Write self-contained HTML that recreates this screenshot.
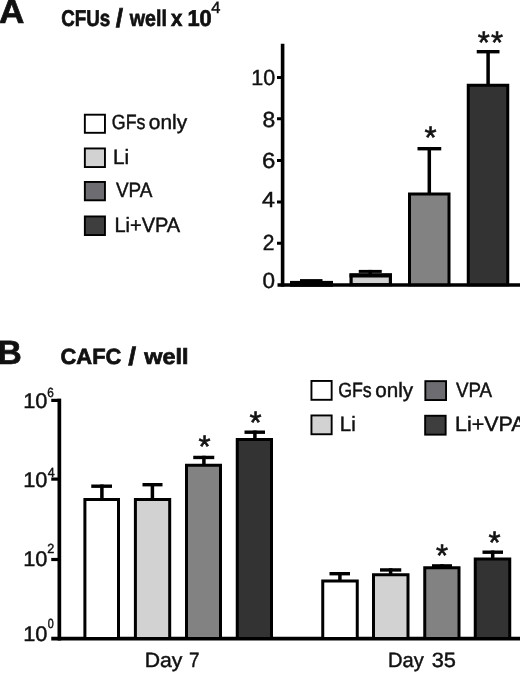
<!DOCTYPE html>
<html><head><meta charset="utf-8"><title>Figure</title>
<style>
html,body{margin:0;padding:0;background:#fff;}
body{width:520px;height:674px;overflow:hidden;}
svg{display:block;}
svg text{font-family:"Liberation Sans",sans-serif;fill:#111;text-rendering:geometricPrecision;}
</style></head><body>
<svg width="520" height="674" viewBox="0 0 520 674">
<rect x="0" y="0" width="520" height="674" fill="#fff"/>
<rect x="280.80" y="43.75" width="3.60" height="243.00" fill="#000"/>
<rect x="277.50" y="283.25" width="242.50" height="3.50" fill="#000"/>
<rect x="277.00" y="76.00" width="5.00" height="3.00" fill="#000"/>
<rect x="277.00" y="117.25" width="5.00" height="3.00" fill="#000"/>
<rect x="277.00" y="159.00" width="5.00" height="3.00" fill="#000"/>
<rect x="277.00" y="200.50" width="5.00" height="3.00" fill="#000"/>
<rect x="277.00" y="241.75" width="5.00" height="3.00" fill="#000"/>
<rect x="290.00" y="280.90" width="43.00" height="5.85" fill="#000"/>
<rect x="300.00" y="279.10" width="22.50" height="2.40" fill="#000"/>
<rect x="368.45" y="269.90" width="3.50" height="5.10" fill="#000"/><rect x="358.75" y="269.90" width="23.00" height="3.00" fill="#000"/>
<rect x="351.10" y="275.00" width="39.30" height="9.65" fill="#d2d2d2" stroke="#000" stroke-width="3.2"/>
<rect x="349.50" y="273.40" width="42.50" height="4.10" fill="#000"/>
<rect x="427.55" y="147.00" width="3.50" height="47.00" fill="#000"/><rect x="417.50" y="147.00" width="23.75" height="3.40" fill="#000"/>
<rect x="409.50" y="194.00" width="39.50" height="90.75" fill="#828282" stroke="#000" stroke-width="3.0"/>
<rect x="486.35" y="50.00" width="3.50" height="35.00" fill="#000"/><rect x="476.75" y="50.00" width="22.75" height="3.40" fill="#000"/>
<rect x="468.25" y="85.25" width="39.50" height="199.50" fill="#333333" stroke="#000" stroke-width="3.0"/>
<rect x="84.85" y="114.70" width="20.10" height="18.10" fill="#ffffff" stroke="#000" stroke-width="1.9"/>
<rect x="84.85" y="148.45" width="20.10" height="18.60" fill="#d2d2d2" stroke="#000" stroke-width="1.9"/>
<rect x="84.85" y="181.95" width="20.10" height="18.35" fill="#6d6d71" stroke="#000" stroke-width="1.9"/>
<rect x="84.85" y="216.45" width="20.10" height="18.60" fill="#3e3e3e" stroke="#000" stroke-width="1.9"/>
<rect x="57.50" y="398.60" width="3.70" height="241.90" fill="#000"/>
<rect x="51.25" y="636.75" width="468.75" height="3.75" fill="#000"/>
<rect x="51.25" y="398.80" width="6.75" height="3.20" fill="#000"/>
<rect x="51.25" y="477.50" width="6.75" height="3.20" fill="#000"/>
<rect x="51.25" y="557.90" width="6.75" height="3.20" fill="#000"/>
<rect x="100.15" y="484.50" width="3.50" height="15.50" fill="#000"/><rect x="91.25" y="484.50" width="20.75" height="3.40" fill="#000"/>
<rect x="84.90" y="499.50" width="33.60" height="139.00" fill="#ffffff" stroke="#000" stroke-width="3.0"/>
<rect x="150.65" y="483.00" width="3.50" height="17.00" fill="#000"/><rect x="142.50" y="483.00" width="20.00" height="3.40" fill="#000"/>
<rect x="135.40" y="499.50" width="34.30" height="139.00" fill="#d2d2d2" stroke="#000" stroke-width="3.0"/>
<rect x="202.15" y="455.75" width="3.50" height="10.00" fill="#000"/><rect x="193.25" y="455.75" width="21.00" height="3.40" fill="#000"/>
<rect x="186.50" y="465.25" width="34.00" height="173.25" fill="#828282" stroke="#000" stroke-width="3.0"/>
<rect x="253.15" y="430.50" width="3.50" height="9.50" fill="#000"/><rect x="244.50" y="430.50" width="20.50" height="3.40" fill="#000"/>
<rect x="237.25" y="439.50" width="34.25" height="199.00" fill="#333333" stroke="#000" stroke-width="3.0"/>
<rect x="338.15" y="572.00" width="3.50" height="9.50" fill="#000"/><rect x="329.50" y="572.00" width="20.50" height="3.40" fill="#000"/>
<rect x="322.75" y="581.00" width="34.50" height="57.50" fill="#ffffff" stroke="#000" stroke-width="3.0"/>
<rect x="388.85" y="568.25" width="3.50" height="7.00" fill="#000"/><rect x="380.00" y="568.25" width="21.25" height="3.40" fill="#000"/>
<rect x="373.50" y="574.75" width="34.50" height="63.75" fill="#d2d2d2" stroke="#000" stroke-width="3.0"/>
<rect x="440.25" y="564.20" width="3.50" height="4.05" fill="#000"/><rect x="432.00" y="564.20" width="20.00" height="3.40" fill="#000"/>
<rect x="424.75" y="567.75" width="34.25" height="70.75" fill="#828282" stroke="#000" stroke-width="3.0"/>
<rect x="490.95" y="550.50" width="3.50" height="9.00" fill="#000"/><rect x="482.50" y="550.50" width="20.50" height="3.40" fill="#000"/>
<rect x="475.25" y="559.00" width="34.50" height="79.50" fill="#333333" stroke="#000" stroke-width="3.0"/>
<rect x="311.45" y="380.95" width="20.20" height="18.85" fill="#ffffff" stroke="#000" stroke-width="1.9"/>
<rect x="311.45" y="415.45" width="20.20" height="18.80" fill="#d2d2d2" stroke="#000" stroke-width="1.9"/>
<rect x="425.35" y="381.15" width="20.70" height="18.90" fill="#6d6d71" stroke="#000" stroke-width="1.9"/>
<rect x="425.15" y="415.75" width="20.50" height="18.90" fill="#3e3e3e" stroke="#000" stroke-width="1.9"/>
<text id="tA" x="-1.03" y="23" font-size="33.6" font-weight="bold" textLength="25.37" lengthAdjust="spacingAndGlyphs" stroke="#111" stroke-width="0.7">A</text>
<text><tspan id="tAt1" x="61.28" y="26" font-size="22.8" font-weight="bold" textLength="48.98" lengthAdjust="spacingAndGlyphs" stroke="#111" stroke-width="0.7">CFUs</tspan> <tspan id="tAt2" x="115.85" y="27" font-size="26" font-weight="bold" textLength="7.28" lengthAdjust="spacingAndGlyphs" stroke="#111" stroke-width="0.7">/</tspan> <tspan id="tAt3" x="129.77" y="26" font-size="22.8" font-weight="bold" textLength="37.07" lengthAdjust="spacingAndGlyphs" stroke="#111" stroke-width="0.7">well</tspan> <tspan id="tAt4" x="170.95" y="26" font-size="22.8" font-weight="bold" textLength="11.36" lengthAdjust="spacingAndGlyphs" stroke="#111" stroke-width="0.7">x</tspan> <tspan id="tAt5" x="187.38" y="26" font-size="22.8" font-weight="bold" textLength="24.28" lengthAdjust="spacingAndGlyphs" stroke="#111" stroke-width="0.7">10</tspan><tspan id="tA4" x="211.14" y="13" font-size="16.5" textLength="9.19" lengthAdjust="spacingAndGlyphs" stroke="#111" stroke-width="0.45">4</tspan></text>
<text id="a10" x="251.30" y="85" font-size="21.8" textLength="23.91" lengthAdjust="spacingAndGlyphs" stroke="#111" stroke-width="0.45">10</text>
<text id="a8" x="262.45" y="127" font-size="21.8" textLength="12.76" lengthAdjust="spacingAndGlyphs" stroke="#111" stroke-width="0.45">8</text>
<text id="a6" x="261.92" y="168" font-size="21.8" textLength="13.37" lengthAdjust="spacingAndGlyphs" stroke="#111" stroke-width="0.45">6</text>
<text id="a4" x="262.11" y="207" font-size="21.8" textLength="12.91" lengthAdjust="spacingAndGlyphs" stroke="#111" stroke-width="0.45">4</text>
<text id="a2" x="262.73" y="250" font-size="21.8" textLength="11.65" lengthAdjust="spacingAndGlyphs" stroke="#111" stroke-width="0.45">2</text>
<text id="a0" x="262.62" y="288" font-size="21.8" textLength="12.53" lengthAdjust="spacingAndGlyphs" stroke="#111" stroke-width="0.45">0</text>
<text><tspan id="la1" x="111.83" y="129" font-size="20.6" textLength="33.61" lengthAdjust="spacingAndGlyphs" stroke="#111" stroke-width="0.45">GFs</tspan> <tspan id="la1b" x="148.82" y="129" font-size="20.6" textLength="38.30" lengthAdjust="spacingAndGlyphs" stroke="#111" stroke-width="0.45">only</tspan></text>
<text id="la2" x="113.07" y="164" font-size="20.6" textLength="16.16" lengthAdjust="spacingAndGlyphs" stroke="#111" stroke-width="0.45">Li</text>
<text id="la3" x="115.95" y="197" font-size="20.6" textLength="36.50" lengthAdjust="spacingAndGlyphs" stroke="#111" stroke-width="0.45">VPA</text>
<text id="la4" x="114.39" y="232" font-size="20.6" textLength="65.80" lengthAdjust="spacingAndGlyphs" stroke="#111" stroke-width="0.45">Li+VPA</text>
<text id="tB" x="-2.50" y="364" font-size="33.6" font-weight="bold" stroke="#111" stroke-width="0.7">B</text>
<text><tspan id="tBt1" x="60.54" y="364" font-size="22" font-weight="bold" textLength="60.85" lengthAdjust="spacingAndGlyphs" stroke="#111" stroke-width="0.7">CAFC</tspan> <tspan id="tBt2" x="128.31" y="365" font-size="25.5" font-weight="bold" textLength="7.86" lengthAdjust="spacingAndGlyphs" stroke="#111" stroke-width="0.7">/</tspan> <tspan id="tBt3" x="144.27" y="364" font-size="22" font-weight="bold" textLength="44.12" lengthAdjust="spacingAndGlyphs" stroke="#111" stroke-width="0.7">well</tspan></text>
<text><tspan id="b6" x="23.15" y="408" font-size="21" textLength="24.23" lengthAdjust="spacingAndGlyphs" stroke="#111" stroke-width="0.45">10</tspan><tspan id="b6s" x="47.17" y="397" font-size="13.3" textLength="6.54" lengthAdjust="spacingAndGlyphs" stroke="#111" stroke-width="0.45">6</tspan></text>
<text><tspan id="b4" x="23.15" y="487" font-size="21" textLength="24.23" lengthAdjust="spacingAndGlyphs" stroke="#111" stroke-width="0.45">10</tspan><tspan id="b4s" x="47.70" y="477" font-size="13.3" textLength="6.93" lengthAdjust="spacingAndGlyphs" stroke="#111" stroke-width="0.45">4</tspan></text>
<text><tspan id="b2" x="23.15" y="566" font-size="21" textLength="24.23" lengthAdjust="spacingAndGlyphs" stroke="#111" stroke-width="0.45">10</tspan><tspan id="b2s" x="47.17" y="553" font-size="13.3" textLength="7.06" lengthAdjust="spacingAndGlyphs" stroke="#111" stroke-width="0.45">2</tspan></text>
<text><tspan id="b0" x="23.15" y="641" font-size="21" textLength="24.23" lengthAdjust="spacingAndGlyphs" stroke="#111" stroke-width="0.45">10</tspan><tspan id="b0s" x="47.68" y="628" font-size="13.3" textLength="5.97" lengthAdjust="spacingAndGlyphs" stroke="#111" stroke-width="0.45">0</tspan></text>
<text><tspan id="lb1" x="338.14" y="397" font-size="20.6" textLength="33.59" lengthAdjust="spacingAndGlyphs" stroke="#111" stroke-width="0.45">GFs</tspan> <tspan id="lb1b" x="375.23" y="397" font-size="20.6" textLength="37.91" lengthAdjust="spacingAndGlyphs" stroke="#111" stroke-width="0.45">only</tspan></text>
<text id="lb2" x="339.82" y="431" font-size="20.6" textLength="15.88" lengthAdjust="spacingAndGlyphs" stroke="#111" stroke-width="0.45">Li</text>
<text id="lb3" x="455.95" y="397" font-size="20.6" textLength="36.18" lengthAdjust="spacingAndGlyphs" stroke="#111" stroke-width="0.45">VPA</text>
<text id="lb4" x="454.99" y="431" font-size="20.6" textLength="70.54" lengthAdjust="spacingAndGlyphs" stroke="#111" stroke-width="0.45">Li+VPA</text>
<text><tspan id="d7" x="144.73" y="667" font-size="20.6" textLength="37.69" lengthAdjust="spacingAndGlyphs" stroke="#111" stroke-width="0.45">Day</tspan> <tspan id="d7b" x="189.07" y="667" font-size="20.6" textLength="10.50" lengthAdjust="spacingAndGlyphs" stroke="#111" stroke-width="0.45">7</tspan></text>
<text><tspan id="d35" x="388.00" y="667" font-size="20.6" textLength="35.75" lengthAdjust="spacingAndGlyphs" stroke="#111" stroke-width="0.45">Day</tspan> <tspan id="d35b" x="431.69" y="667" font-size="20.6" textLength="24.24" lengthAdjust="spacingAndGlyphs" stroke="#111" stroke-width="0.45">35</tspan></text>
<text id="s1" x="424.54" y="148" font-size="31" stroke="#111" stroke-width="0.6">*</text>
<text><tspan id="s2" x="477.68" y="53" font-size="31" stroke="#111" stroke-width="0.6">*</tspan><tspan id="s3" x="491.01" y="53" font-size="31" stroke="#111" stroke-width="0.6">*</tspan></text>
<text id="s4" x="198.59" y="457" font-size="31" stroke="#111" stroke-width="0.6">*</text>
<text id="s5" x="249.45" y="433" font-size="31" stroke="#111" stroke-width="0.6">*</text>
<text id="s6" x="436.07" y="566" font-size="31" stroke="#111" stroke-width="0.6">*</text>
<text id="s7" x="488.59" y="553" font-size="31" stroke="#111" stroke-width="0.6">*</text>
</svg>
</body></html>
